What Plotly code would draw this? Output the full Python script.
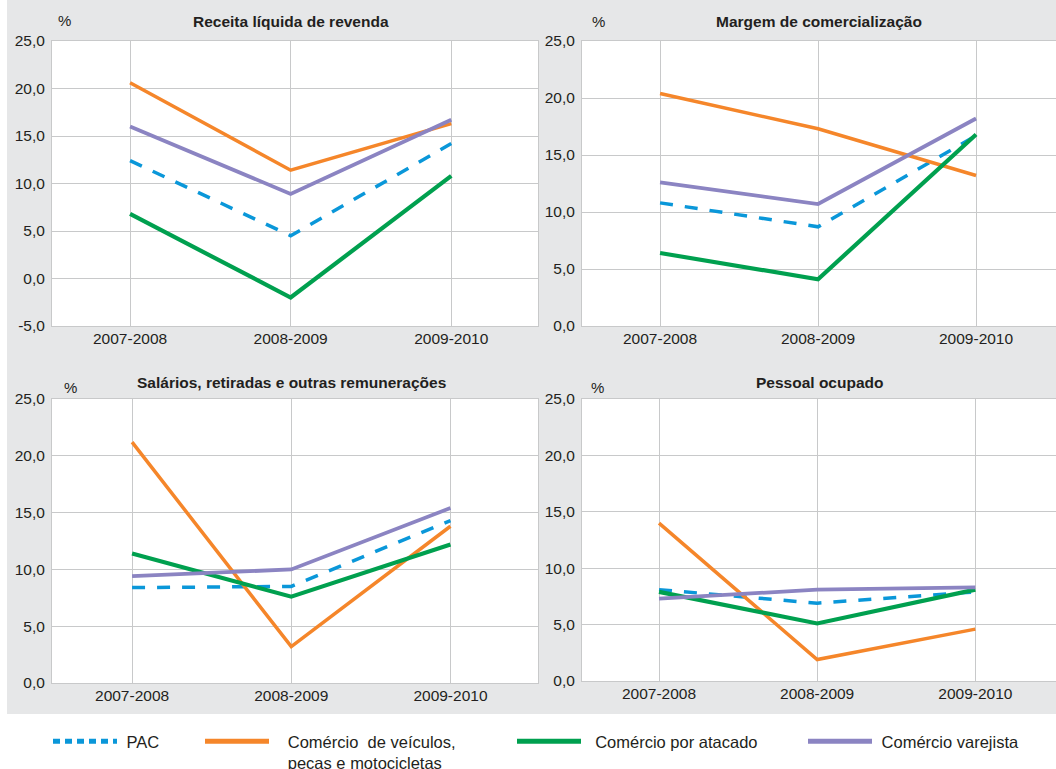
import plotly.graph_objects as go

# ---------------- data ----------------
categories = ["2007-2008", "2008-2009", "2009-2010"]

series_names = [
    "PAC",
    "Comércio  de veículos,<br>peças e motocicletas",
    "Comércio por atacado",
    "Comércio varejista",
]

receita_pac = [12.4, 4.5, 14.2]
receita_veiculos = [20.6, 11.4, 16.3]
receita_atacado = [6.8, -2.0, 10.8]
receita_varejo = [16.0, 8.9, 16.7]

margem_pac = [10.8, 8.7, 16.7]
margem_veiculos = [20.4, 17.3, 13.2]
margem_atacado = [6.4, 4.1, 16.8]
margem_varejo = [12.6, 10.7, 18.2]

salarios_pac = [8.4, 8.5, 14.3]
salarios_veiculos = [21.2, 3.2, 13.8]
salarios_atacado = [11.4, 7.6, 12.2]
salarios_varejo = [9.4, 10.0, 15.4]

pessoal_pac = [8.1, 6.9, 7.9]
pessoal_veiculos = [14.0, 1.9, 4.6]
pessoal_atacado = [7.9, 5.1, 8.1]
pessoal_varejo = [7.3, 8.1, 8.3]

panel_titles = [
    "Receita líquida de revenda",
    "Margem de comercialização",
    "Salários, retiradas e outras remunerações",
    "Pessoal ocupado",
]

yticks_receita = [-5, 0, 5, 10, 15, 20, 25]
yticklabels_receita = ["-5,0", "0,0", "5,0", "10,0", "15,0", "20,0", "25,0"]
yticks_other = [0, 5, 10, 15, 20, 25]
yticklabels_other = ["0,0", "5,0", "10,0", "15,0", "20,0", "25,0"]

# ---------------- styling ----------------
W, H = 1056, 769
colors = ["#0a97d9", "#f5862a", "#00a04f", "#8b84c2"]
widths = [3.5, 3.5, 4.2, 3.8]
dashes = ["13px,12px", "solid", "solid", "solid"]
FONT = "Liberation Sans, Arial, Helvetica, sans-serif"
TXT = "#231f20"
GRID = "#c8c9ca"
BG = "#e6e7e8"
TICK_SIZE = 15.5

panels = [
    [receita_pac, receita_veiculos, receita_atacado, receita_varejo],
    [margem_pac, margem_veiculos, margem_atacado, margem_varejo],
    [salarios_pac, salarios_veiculos, salarios_atacado, salarios_varejo],
    [pessoal_pac, pessoal_veiculos, pessoal_atacado, pessoal_varejo],
]

# pixel geometry of the four plot areas (left, right, top, bottom)
boxes = [
    (52, 538, 41, 326),
    (582, 1056, 41, 326),
    (52, 538, 399, 683),
    (582, 1056, 399, 681),
]
xranges = [[-0.486, 2.54], [-0.494, 2.506], [-0.503, 2.55], [-0.487, 2.51]]

fig = go.Figure()

for p, series in enumerate(panels):
    ax = "" if p == 0 else str(p + 1)
    for s, vals in enumerate(series):
        fig.add_trace(go.Scatter(
            x=categories, y=vals, mode="lines",
            line=dict(color=colors[s], width=widths[s], dash=dashes[s]),
            xaxis="x" + ax, yaxis="y" + ax,
            showlegend=False, hoverinfo="skip",
        ))

# legend entries (one legend box per entry so they can be placed freely)
legend_dashes = ["7px,5px", "solid", "solid", "solid"]
legend_pads = [1, 3, 2, 1]          # leading non-breaking spaces
legend_pos = [53, 205, 517, 808]    # left of each legend sample (px)
for s, name in enumerate(series_names):
    pad = "\u00a0" * legend_pads[s]
    label = pad + name.replace("<br>", "<br>" + pad)
    fig.add_trace(go.Scatter(
        x=[None], y=[None], mode="lines", name=label,
        line=dict(color=colors[s], width=5, dash=legend_dashes[s]),
        showlegend=True, legend="legend" if s == 0 else "legend%d" % (s + 1),
    ))

layout = dict(
    width=W, height=H,
    margin=dict(l=0, r=0, t=0, b=0, autoexpand=False),
    paper_bgcolor=BG, plot_bgcolor="white",
    font=dict(family=FONT, size=TICK_SIZE, color=TXT),
    showlegend=True,
)

for p in range(4):
    ax = "" if p == 0 else str(p + 1)
    l, r, t, b = boxes[p]
    if p == 0:
        tv, tt, yr = yticks_receita, yticklabels_receita, [-5, 25]
    else:
        tv, tt, yr = yticks_other, yticklabels_other, [0, 25]
    layout["xaxis" + ax] = dict(
        domain=[l / W, min(r / W, 1.0)], anchor="y" + ax,
        type="category", range=xranges[p], automargin=False,
        showgrid=True, gridcolor=GRID, gridwidth=1,
        showline=True, linecolor=GRID, linewidth=1, mirror=True,
        zeroline=False, ticks="", tickfont=dict(size=TICK_SIZE, color=TXT),
        ticklabelstandoff=-2, fixedrange=True,
    )
    layout["yaxis" + ax] = dict(
        domain=[1 - b / H, 1 - t / H], anchor="x" + ax,
        range=yr, tickvals=tv, ticktext=tt, automargin=False,
        showgrid=True, gridcolor=GRID, gridwidth=1,
        showline=True, linecolor=GRID, linewidth=1, mirror=True,
        zeroline=False, ticks="", tickfont=dict(size=TICK_SIZE, color=TXT),
        ticklabelstandoff=3, fixedrange=True,
    )

# legends
for s in range(4):
    key = "legend" if s == 0 else "legend%d" % (s + 1)
    layout[key] = dict(
        xref="container", yref="container",
        x=(legend_pos[s] - 5) / W, y=1 - 724 / H,
        xanchor="left", yanchor="top",
        bgcolor="rgba(0,0,0,0)", borderwidth=0,
        itemwidth=64, valign="top",
        font=dict(family=FONT, size=16.5, color=TXT),
        orientation="v", tracegroupgap=0,
        itemclick=False, itemdoubleclick=False,
    )

fig.update_layout(**layout)

# white strips outside the grey panel
fig.add_shape(type="rect", xref="paper", yref="paper",
              x0=0, x1=1, y0=0, y1=1 - 714 / H,
              fillcolor="white", line_width=0, layer="below")
fig.add_shape(type="rect", xref="paper", yref="paper",
              x0=0, x1=7 / W, y0=0, y1=1,
              fillcolor="white", line_width=0, layer="below")

# panel titles and % labels
title_pos = [(291, 22), (819, 22), (291, 382), (819, 382)]
pct_pos = [(64, 20), (598, 22), (70, 387), (597, 387)]
for p in range(4):
    tx, ty = title_pos[p]
    fig.add_annotation(x=tx / W, y=1 - ty / H, xref="paper", yref="paper",
                       text="<b>%s</b>" % panel_titles[p], showarrow=False,
                       xanchor="center", yanchor="middle",
                       font=dict(family=FONT, size=15.5, color=TXT))
    px_, py_ = pct_pos[p]
    fig.add_annotation(x=px_ / W, y=1 - py_ / H, xref="paper", yref="paper",
                       text="%", showarrow=False,
                       xanchor="center", yanchor="middle",
                       font=dict(family=FONT, size=15, color=TXT))

fig.write_html(
    "out.html",
    config={"displayModeBar": False, "staticPlot": True},
    post_script="document.body.style.margin='0px';document.body.style.overflow='hidden';",
)
